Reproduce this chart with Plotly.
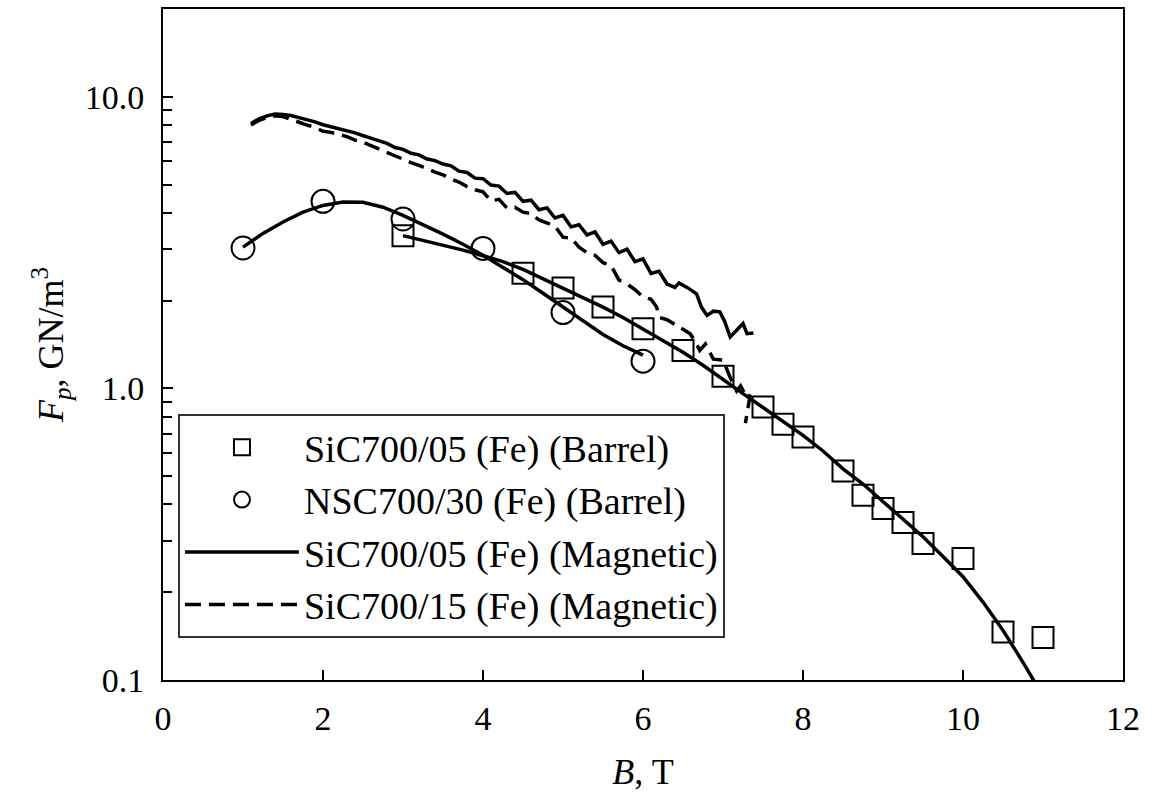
import plotly.graph_objects as go

# --- Barrel data (markers) ---
sq_x = [3.0, 4.5, 5.0, 5.5, 6.0, 6.5, 7.0, 7.5, 7.75, 8.0, 8.5, 8.75, 9.0, 9.25, 9.5, 10.0, 10.5, 11.0]
sq_y = [3.34, 2.48, 2.21, 1.90, 1.60, 1.35, 1.10, 0.863, 0.753, 0.681, 0.521, 0.430, 0.387, 0.347, 0.294, 0.261, 0.146, 0.140]

ci_x = [1.0, 2.0, 3.0, 4.0, 5.0, 6.0]
ci_y = [3.03, 4.38, 3.81, 3.02, 1.82, 1.24]

# --- fitted curves through the barrel data ---
sqfit_x = [3.0, 3.25, 3.5, 3.75, 4.0, 4.25, 4.5, 4.75, 5.0, 5.25, 5.5, 5.75, 6.0, 6.25, 6.5, 6.75,
           7.0, 7.25, 7.5, 7.75, 8.0, 8.25, 8.5, 8.75, 9.0, 9.25, 9.5, 9.75, 10.0, 10.25, 10.5, 10.75, 10.9]
sqfit_y = [3.34, 3.22, 3.10, 2.98, 2.85, 2.72, 2.56, 2.38, 2.20, 2.05, 1.90, 1.75, 1.60, 1.46, 1.33, 1.20,
           1.07, 0.96, 0.86, 0.77, 0.69, 0.61, 0.53, 0.47, 0.41, 0.355, 0.31, 0.265, 0.226, 0.185, 0.148, 0.115, 0.098]

cifit_x = [1.0, 1.25, 1.5, 1.75, 2.0, 2.25, 2.5, 2.75, 3.0, 3.25, 3.5, 3.75, 4.0, 4.25, 4.5, 4.75,
           5.0, 5.25, 5.5, 5.75, 6.0]
cifit_y = [3.05, 3.40, 3.72, 4.02, 4.24, 4.36, 4.35, 4.18, 3.92, 3.65, 3.38, 3.12, 2.86, 2.60, 2.36, 2.12,
           1.90, 1.70, 1.53, 1.40, 1.30]

# --- Magnetic measurements ---
mag05_x = [1.1, 1.2, 1.3, 1.4, 1.5, 1.6, 1.7, 1.8, 1.9, 2.0, 2.1, 2.2, 2.3, 2.4, 2.5, 2.6, 2.7, 2.8, 2.9,
           3.0, 3.1, 3.2, 3.3, 3.4, 3.5, 3.6, 3.7, 3.8, 3.9, 4.0, 4.1, 4.2, 4.3, 4.4, 4.5, 4.6, 4.7,
           4.8, 4.9, 5.0, 5.1, 5.2, 5.3, 5.4, 5.5, 5.6, 5.7, 5.8, 5.9, 6.0, 6.1, 6.2, 6.3, 6.4, 6.45,
           6.55, 6.67, 6.73, 6.80, 6.88, 6.96, 7.02, 7.09, 7.17, 7.25, 7.30, 7.38]
mag05_y = [8.10, 8.40, 8.60, 8.72, 8.70, 8.62, 8.48, 8.35, 8.20, 8.02, 7.90, 7.78, 7.62, 7.52, 7.36, 7.22,
           7.05, 6.92, 6.70, 6.60, 6.40, 6.32, 6.12, 6.04, 5.88, 5.80, 5.56, 5.50, 5.26, 5.24, 4.98, 4.94,
           4.66, 4.70, 4.38, 4.42, 4.10, 4.16, 3.84, 3.92, 3.58, 3.64, 3.36, 3.44, 3.12, 3.20, 2.92, 3.00,
           2.72, 2.78, 2.48, 2.52, 2.28, 2.22, 2.30, 2.22, 2.11, 1.90, 1.78, 1.84, 1.83, 1.70, 1.50, 1.58,
           1.67, 1.54, 1.55]

mag15_x = [1.1, 1.2, 1.3, 1.4, 1.5, 1.6, 1.7, 1.8, 1.9, 2.0, 2.1, 2.2, 2.3, 2.4, 2.5, 2.6, 2.7, 2.8, 2.9,
           3.0, 3.1, 3.2, 3.3, 3.4, 3.5, 3.6, 3.7, 3.8, 3.9, 4.0, 4.1, 4.2, 4.3, 4.4, 4.5, 4.6, 4.7,
           4.8, 4.9, 5.0, 5.1, 5.2, 5.3, 5.4, 5.5, 5.6, 5.7, 5.8, 5.9, 6.0, 6.1, 6.17, 6.21, 6.3, 6.38,
           6.5, 6.59, 6.65, 6.71, 6.78, 6.88, 7.0, 7.05, 7.09, 7.17, 7.22, 7.30, 7.34, 7.28]
mag15_y = [8.00, 8.30, 8.50, 8.60, 8.55, 8.35, 8.20, 8.00, 7.85, 7.62, 7.55, 7.40, 7.30, 7.10, 6.98, 6.80,
           6.62, 6.45, 6.25, 6.12, 5.95, 5.82, 5.65, 5.52, 5.40, 5.22, 5.10, 4.92, 4.80, 4.72, 4.40, 4.45,
           4.15, 4.18, 4.02, 3.98, 3.78, 3.70, 3.60, 3.30, 3.28, 3.05, 2.92, 2.86, 2.70, 2.64, 2.35, 2.28,
           2.18, 2.06, 2.02, 1.90, 1.75, 1.72, 1.67, 1.60, 1.54, 1.45, 1.35, 1.42, 1.26, 1.25, 1.15, 1.09,
           0.98, 1.02, 0.93, 0.95, 0.76]

legend_names = ["SiC700/05 (Fe) (Barrel)", "NSC700/30 (Fe) (Barrel)",
                "SiC700/05 (Fe) (Magnetic)", "SiC700/15 (Fe) (Magnetic)"]

y_tickvals = [0.1, 1.0, 10.0]
y_ticktext = ["0.1", "1.0", "10.0"]
y_minor = [0.2, 0.3, 0.4, 0.5, 0.6, 0.7, 0.8, 0.9, 2, 3, 4, 5, 6, 7, 8, 9]
x_tickvals = [0, 2, 4, 6, 8, 10, 12]

FONT = "Liberation Serif"

fig = go.Figure()

fig.add_trace(go.Scatter(x=sqfit_x, y=sqfit_y, mode="lines", showlegend=False,
                         line=dict(color="black", width=3.5)))
fig.add_trace(go.Scatter(x=cifit_x, y=cifit_y, mode="lines", showlegend=False,
                         line=dict(color="black", width=3.5)))
fig.add_trace(go.Scatter(x=sq_x, y=sq_y, mode="markers", name=legend_names[0],
                         marker=dict(symbol="square-open", size=21, color="black",
                                     line=dict(color="black", width=2))))
fig.add_trace(go.Scatter(x=ci_x, y=ci_y, mode="markers", name=legend_names[1],
                         marker=dict(symbol="circle-open", size=23, color="black",
                                     line=dict(color="black", width=2))))
fig.add_trace(go.Scatter(x=mag05_x, y=mag05_y, mode="lines", name=legend_names[2],
                         line=dict(color="black", width=3.5)))
fig.add_trace(go.Scatter(x=mag15_x, y=mag15_y, mode="lines", name=legend_names[3],
                         line=dict(color="black", width=3.5, dash="16px,8px")))

fig.update_layout(
    width=1156, height=796,
    margin=dict(l=163, r=33, t=9, b=116, autoexpand=False),
    paper_bgcolor="white", plot_bgcolor="white",
    font=dict(family=FONT, size=34, color="black"),
    hovermode=False,
    showlegend=True,
    legend=dict(x=0.0156, y=0.3964, xanchor="left", yanchor="top",
                bgcolor="white", bordercolor="#333", borderwidth=2,
                font=dict(family=FONT, size=38, color="black"),
                itemwidth=114),
)

fig.update_xaxes(
    range=[0, 12], tickvals=x_tickvals, ticks="inside", ticklen=10, tickwidth=2,
    tickcolor="black", showline=True, linecolor="black", linewidth=2, mirror=True,
    showgrid=False, zeroline=False, tickfont=dict(size=34), automargin=False,
    ticklabelstandoff=7,
    title=dict(text="<i>B</i>, T", font=dict(size=36), standoff=23),
)
fig.update_yaxes(
    type="log", range=[-1, 1.30103], tickvals=y_tickvals, ticktext=y_ticktext,
    ticks="inside", ticklen=10, tickwidth=2, tickcolor="black",
    minor=dict(tickvals=y_minor, ticks="inside", ticklen=9, tickwidth=2, tickcolor="black"),
    showline=True, linecolor="black", linewidth=2, mirror=True,
    showgrid=False, zeroline=False, tickfont=dict(size=34), automargin=False,
    ticklabelstandoff=10,
    title=dict(text="<i>F</i><sub><i>p</i></sub>, GN/m<sup>3</sup>", font=dict(size=36), standoff=10),
)

fig.write_html("out.html", config={"displayModeBar": False, "staticPlot": True},
               post_script="document.body.style.margin='0px';")
